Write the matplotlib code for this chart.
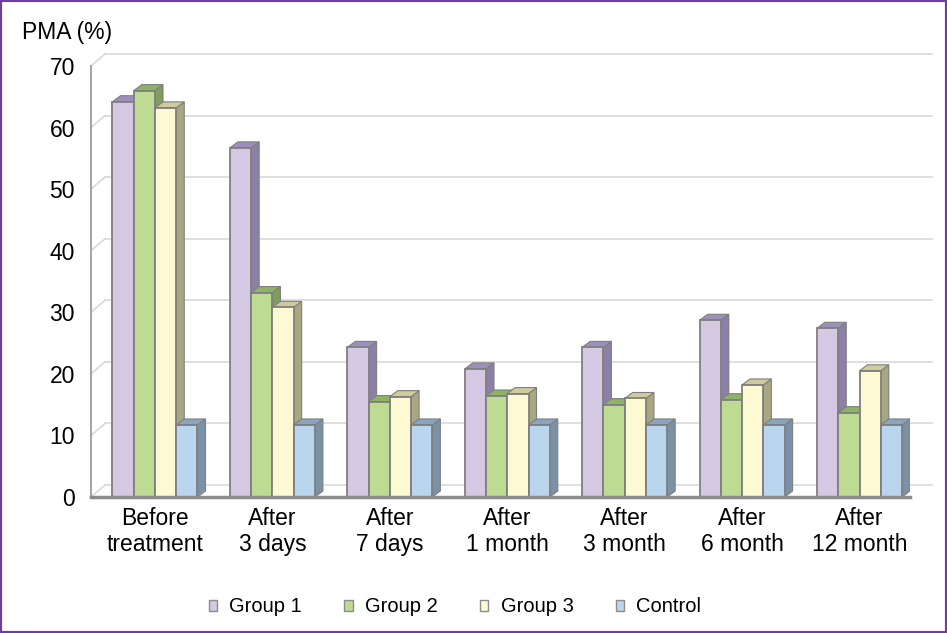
import numpy as np
import matplotlib
matplotlib.use('Agg')
import matplotlib.pyplot as plt
from matplotlib.patches import Polygon, Rectangle

plt.rcParams['font.family'] = ['Liberation Sans', 'DejaVu Sans']

# ---- data ----
categories = ['Before\ntreatment', 'After\n3 days', 'After\n7 days', 'After\n1 month',
              'After\n3 month', 'After\n6 month', 'After\n12 month']
group1 = [64.2, 56.7, 24.3, 20.8, 24.3, 28.7, 27.4]
group2 = [66.0, 33.2, 15.5, 16.4, 15.0, 15.8, 13.7]
group3 = [63.2, 30.8, 16.3, 16.8, 16.0, 18.2, 20.5]
control = [11.7, 11.7, 11.7, 11.7, 11.7, 11.7, 11.7]
series_names = ['Group 1', 'Group 2', 'Group 3', 'Control']
yticks = [0, 10, 20, 30, 40, 50, 60, 70]

# front / side / top colours per series
front_cols = ['#d4c8e2', '#bedb93', '#fdf9d3', '#bad6ee']
side_cols = ['#8c80a8', '#7f9d5c', '#a9a781', '#7a91a8']
top_cols = ['#9d8fbb', '#8db463', '#cfcb9c', '#88a6c4']
edge = '#7f7f7f'

W, H = 947, 633
fig = plt.figure(figsize=(W / 100, H / 100), dpi=100)
ax_l, ax_r, ax_b, ax_t = 91, 910, 497, 66
ax = fig.add_axes([ax_l / W, 1 - ax_b / H, (ax_r - ax_l) / W, (ax_b - ax_t) / H])

xlo, xhi = -0.545, 6.43
ax.set_xlim(xlo, xhi)
ax.set_ylim(0, 70)
px_x = (xhi - xlo) / (ax_r - ax_l)   # data units per pixel
px_y = 70 / (ax_b - ax_t)

# back wall gridlines (shifted up/right)
wdx, wdy = 14 * px_x, 12 * px_y
x_wall_end = xlo + (932 - ax_l) * px_x
for v in yticks:
    ax.plot([xlo, xlo + wdx], [v, v + wdy], color='#d9d9d9', lw=1.2, zorder=1, clip_on=False)
    ax.plot([xlo + wdx, x_wall_end], [v + wdy, v + wdy], color='#d9d9d9', lw=1.2,
            zorder=1, clip_on=False)

# bars with pseudo-3D faces
bw = 0.181
bdx, bdy = 8 * px_x, 6 * px_y
series = [group1, group2, group3, control]
xs = np.arange(len(categories))
for j, vals in enumerate(series):
    z = 3 + j
    xpos = xs + (j - 1.5) * bw
    for x, h in zip(xpos, vals):
        l, r = x - bw / 2, x + bw / 2
        side = Polygon([(r, 0), (r + bdx, bdy), (r + bdx, h + bdy), (r, h)],
                       closed=True, facecolor=side_cols[j], edgecolor=edge, lw=0.8, zorder=z)
        top = Polygon([(l, h), (l + bdx, h + bdy), (r + bdx, h + bdy), (r, h)],
                      closed=True, facecolor=top_cols[j], edgecolor=edge, lw=0.8, zorder=z)
        ax.add_patch(side)
        ax.add_patch(top)
    ax.bar(xpos, vals, bw, color=front_cols[j], edgecolor=edge, lw=1.3, zorder=z)

# axes styling
for s in ['top', 'right']:
    ax.spines[s].set_visible(False)
ax.spines['left'].set_color('#a6a6a6')
ax.spines['left'].set_linewidth(1.5)
ax.spines['bottom'].set_color('#8c8c8c')
ax.spines['bottom'].set_linewidth(2.5)
ax.spines['bottom'].set_zorder(10)
ax.set_yticks(yticks)
ax.set_xticks(xs)
ax.set_xticklabels(categories, fontsize=16.5, linespacing=1.2)
ax.tick_params(axis='y', length=0, pad=11.5, labelsize=16.5)
ax.tick_params(axis='x', length=0, pad=7)

fig.text(22 / W, 1 - 32 / H, 'PMA (%)', fontsize=16.5, ha='left', va='center')

handles = [Rectangle((0, 0), 1, 1, facecolor=c, edgecolor='#8c8c8c', lw=1) for c in front_cols]
fig.legend(handles, series_names, loc='center', bbox_to_anchor=(455 / W, 1 - 607 / H),
           ncol=4, frameon=False, fontsize=14.5, handlelength=0.42, handleheight=0.42,
           handletextpad=0.6, columnspacing=2.1)

# purple frame around the figure
fig.patches.append(Rectangle((0, 0), 1, 1, transform=fig.transFigure, fill=False,
                             edgecolor='#6f3fa0', lw=3, zorder=20))

fig.savefig('out.png', dpi=100)
